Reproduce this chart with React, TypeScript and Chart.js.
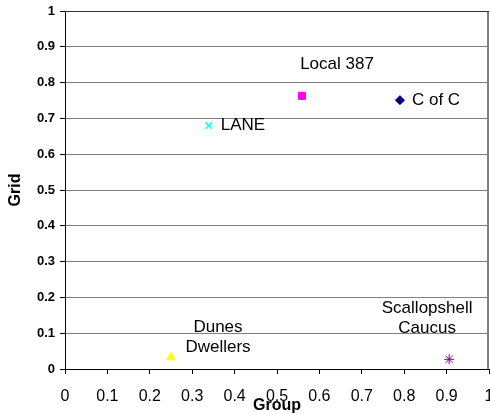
import React, { useEffect, useRef } from "react";
import { Chart, registerables } from "chart.js";

Chart.register(...registerables);

const seriesNames = ["Dunes Dwellers", "Scallopshell Caucus", "LANE", "Local 387", "C of C"];
const labelLines = [["Dunes", "Dwellers"], ["Scallopshell", "Caucus"], ["LANE"], ["Local 387"], ["C of C"]];
const groupValues = [0.25, 0.906, 0.339, 0.559, 0.79];
const gridValues = [0.033, 0.027, 0.68, 0.763, 0.751];
const pointColors = ["#FFFF00", "#800080", "#00FFFF", "#FF00FF", "#000080"];
const pointShapes = ["triangle", "star", "crossRot", "rect", "rectRot"];
const pointSizes = [5, 5, 4.5, 5, 4.5];
// label placement per series: [dx, dy of first line, align]
const labelPlacement: [number, number, CanvasTextAlign][] = [
  [47, -30, "center"],
  [-22, -51, "center"],
  [12, 0, "left"],
  [35, -32, "center"],
  [12, 0, "left"],
];

const FONT = "'Liberation Sans', Arial, sans-serif";

const labelPlugin = {
  id: "pointLabels",
  afterDatasetsDraw(chart: any) {
    const ctx = chart.ctx;
    ctx.save();
    ctx.font = `17px ${FONT}`;
    ctx.fillStyle = "#000";
    ctx.textBaseline = "middle";
    chart.data.datasets.forEach((ds: any, i: number) => {
      const el = chart.getDatasetMeta(i).data[0];
      if (!el) return;
      const [dx, dy, align] = labelPlacement[i];
      ctx.textAlign = align;
      labelLines[i].forEach((t: string, k: number) => {
        ctx.fillText(t, el.x + dx, el.y + dy + k * 20);
      });
    });
    ctx.restore();
  },
};

const framePlugin = {
  id: "frame",
  beforeDatasetsDraw(chart: any) {
    const { ctx, chartArea } = chart;
    ctx.save();
    ctx.strokeStyle = "#808080";
    ctx.lineWidth = 2;
    ctx.beginPath();
    ctx.moveTo(chartArea.right - 1, chartArea.top);
    ctx.lineTo(chartArea.right - 1, chartArea.bottom);
    ctx.stroke();
    ctx.strokeStyle = "#333";
    ctx.lineWidth = 1;
    ctx.beginPath();
    ctx.moveTo(chartArea.left, chartArea.top + 0.5);
    ctx.lineTo(chartArea.right, chartArea.top + 0.5);
    ctx.stroke();
    ctx.restore();
  },
};

export default function App() {
  const ref = useRef<HTMLCanvasElement>(null);
  useEffect(() => {
    const datasets = seriesNames.map((name, i) => ({
      label: name,
      data: [{ x: groupValues[i], y: gridValues[i] }],
      pointStyle: pointShapes[i],
      backgroundColor: pointColors[i],
      borderColor: pointColors[i],
      borderWidth: pointShapes[i] === "crossRot" ? 1.5 : 1,
      pointRadius: pointSizes[i],
    }));
    const chart = new Chart(ref.current!, {
      type: "scatter",
      data: { datasets },
      options: {
        animation: false,
        responsive: false,
        layout: { autoPadding: false, padding: { top: 11, right: 1, left: 0, bottom: 0 } },
        plugins: { legend: { display: false }, tooltip: { enabled: false } },
        scales: {
          x: {
            type: "linear",
            min: 0,
            max: 1,
            ticks: {
              stepSize: 0.1,
              color: "#000",
              padding: 13,
              font: { family: FONT, size: 16 },
              maxRotation: 0,
              callback: (v: any) => String(Math.round(v * 10) / 10),
            },
            grid: { drawOnChartArea: false, tickLength: 5, tickColor: "#000" },
            border: { color: "#000", width: 1 },
            title: {
              display: true,
              text: "Group",
              color: "#000",
              font: { family: FONT, size: 16, weight: "bold" },
              padding: { top: 0, bottom: -1 },
            },
            afterFit: (s: any) => {
              s.height = 45;
              s.paddingLeft = 0;
              s.paddingRight = 0;
            },
          },
          y: {
            type: "linear",
            min: 0,
            max: 1,
            ticks: {
              stepSize: 0.1,
              color: "#000",
              padding: 5,
              font: { family: FONT, size: 13, weight: "bold" },
              callback: (v: any) => String(Math.round(v * 10) / 10),
            },
            grid: { color: "#808080", tickLength: 5, tickColor: "#000" },
            border: { color: "#000", width: 1 },
            title: {
              display: true,
              text: "Grid",
              color: "#000",
              font: { family: FONT, size: 16, weight: "bold" },
              padding: { top: 6, bottom: 0 },
            },
            afterFit: (s: any) => {
              s.width = 65;
              s.paddingTop = 0;
              s.paddingBottom = 0;
            },
          },
        },
      },
      plugins: [framePlugin, labelPlugin],
    } as any);
    return () => chart.destroy();
  }, []);
  return (
    <div style={{ position: "fixed", left: 0, top: 0, width: 490, height: 414, background: "#fff" }}>
      <canvas ref={ref} width={490} height={414} style={{ width: 490, height: 414 }} />
    </div>
  );
}
